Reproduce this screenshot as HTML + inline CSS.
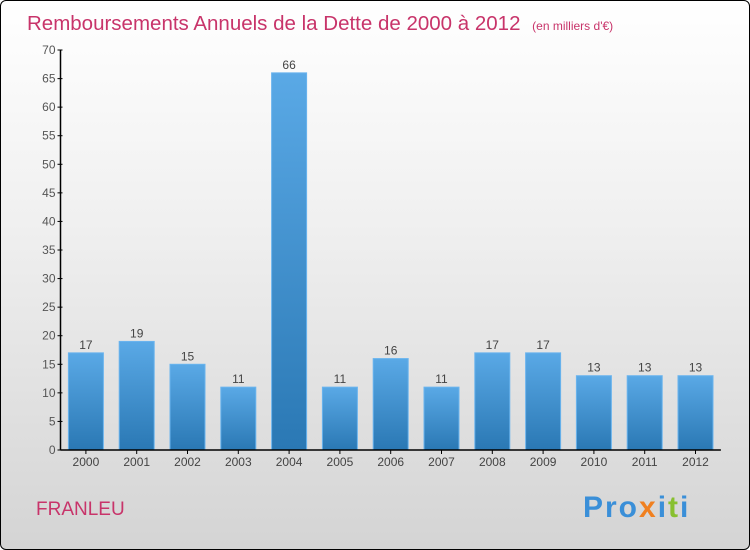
<!DOCTYPE html>
<html><head><meta charset="utf-8"><style>
body{margin:0;}
#c{position:relative;width:748px;height:548px;border:1px solid #000;border-radius:6px;overflow:hidden;background:linear-gradient(#ffffff 0%,#f0f0f0 40%,#d4d4d4 100%);font-family:"Liberation Sans",sans-serif;}
</style></head><body>
<div id="c">
<svg id="s" width="748" height="548" xmlns="http://www.w3.org/2000/svg">
<defs><linearGradient id="g" x1="0" y1="0" x2="0" y2="1"><stop offset="0" stop-color="#5aa9e6"/><stop offset="1" stop-color="#2a78b4"/></linearGradient></defs>
<text x="26" y="29" font-size="20.5" fill="#c8346a">Remboursements Annuels de la Dette de 2000 à 2012 <tspan font-size="12" dx="6">(en milliers d'€)</tspan></text>
<text x="35" y="514" font-size="19" fill="#c8346a">FRANLEU</text>
<g font-size="30" font-weight="bold">
<text x="582" y="516" letter-spacing="2"><tspan fill="#3a8fd8">Pro</tspan><tspan fill="#f08020">x</tspan><tspan fill="#3a8fd8">i</tspan><tspan fill="#88c030">t</tspan><tspan fill="#3a8fd8">i</tspan></text></g>
<g id="bars"></g><g id="axes"></g>
</svg></div>
<script>
const categories=["2000","2001","2002","2003","2004","2005","2006","2007","2008","2009","2010","2011","2012"];
const values=[17,19,15,11,66,11,16,11,17,17,13,13,13];
const yTicks=[0,5,10,15,20,25,30,35,40,45,50,55,60,65,70];
const NS="http://www.w3.org/2000/svg";
const x0=59.5,slot=50.8,base=449,yMax=70,plotH=400;
const y=v=>base-v/yMax*plotH;
const xc=i=>x0+slot*(i+0.5);
const bars=document.getElementById('bars'),axes=document.getElementById('axes');
function mk(t,a,p){const e=document.createElementNS(NS,t);for(const k in a)e.setAttribute(k,a[k]);p.appendChild(e);return e;}
values.forEach((v,i)=>{
const r=mk('rect',{x:xc(i)-17.5,y:y(v),width:35,height:base-y(v),fill:'url(#g)',stroke:'#6ab4ee','stroke-width':1},bars);


const t=mk('text',{x:xc(i),y:y(v)-4,'text-anchor':'middle','font-size':12,fill:'#444'},bars);t.textContent=v;


const l=mk('text',{x:xc(i),y:base+16,'text-anchor':'middle','font-size':12,fill:'#444'},axes);l.textContent=categories[i];


mk('line',{x1:xc(i),x2:xc(i),y1:base,y2:base+4,stroke:'#000'},axes);
});
yTicks.forEach(v=>{
mk('line',{x1:x0-3,x2:x0+2,y1:y(v),y2:y(v),stroke:'#000'},axes);
const t=mk('text',{x:x0-5,y:y(v)+4,'text-anchor':'end','font-size':12,fill:'#555'},axes);t.textContent=v;


});
const ya=mk('line',{x1:x0,x2:x0,y1:y(70),y2:base,stroke:'#000','stroke-width':1.5},axes);


const xa=mk('line',{x1:x0,x2:x0+slot*13,y1:base,y2:base,stroke:'#000','stroke-width':1.5},axes);


</script>
</body></html>
